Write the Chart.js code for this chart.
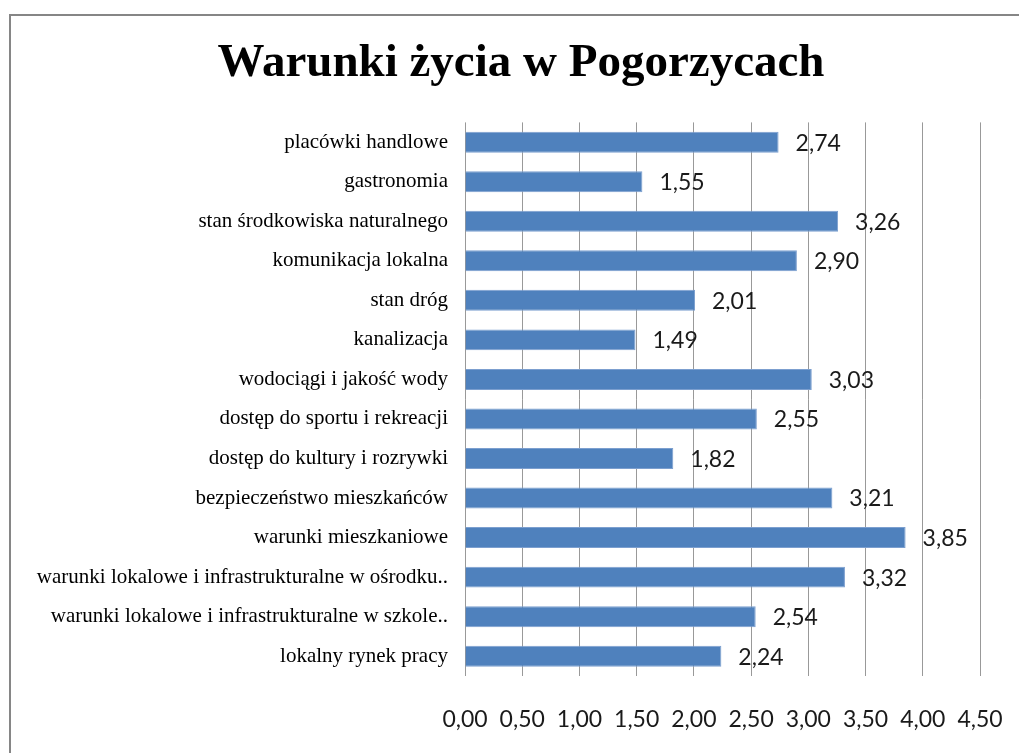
<!DOCTYPE html>
<html>
<head>
<meta charset="utf-8">
<script src="https://cdn.jsdelivr.net/npm/chart.js@4/dist/chart.umd.min.js"></script>
<style>
  html, body { margin: 0; padding: 0; background: #fff; overflow: hidden; }
  #wrap { position: absolute; left: 0; top: 0; width: 1042px; height: 753px; }
</style>
</head>
<body>
<div id="wrap"><canvas id="c"></canvas></div>
<script>
const chartTitle = 'Warunki życia w Pogorzycach';
const categories = [
  'placówki handlowe',
  'gastronomia',
  'stan środkowiska naturalnego',
  'komunikacja lokalna',
  'stan dróg',
  'kanalizacja',
  'wodociągi i jakość wody',
  'dostęp do sportu i rekreacji',
  'dostęp do kultury i rozrywki',
  'bezpieczeństwo mieszkańców',
  'warunki mieszkaniowe',
  'warunki lokalowe i infrastrukturalne w ośrodku..',
  'warunki lokalowe i infrastrukturalne w szkole..',
  'lokalny rynek pracy'
];
const values = [2.74, 1.55, 3.26, 2.90, 2.01, 1.49, 3.03, 2.55, 1.82, 3.21, 3.85, 3.32, 2.54, 2.24];
const xMin = 0, xMax = 4.5, xStep = 0.5;

const fmt = v => Number(v).toFixed(2).replace('.', ',');

const frame = {
  id: 'frame',
  beforeDraw(chart) {
    const ctx = chart.ctx;
    ctx.save();
    ctx.strokeStyle = '#868686';
    ctx.lineWidth = 2;
    ctx.beginPath();
    ctx.moveTo(10, 800);
    ctx.lineTo(10, 15);
    ctx.lineTo(1100, 15);
    ctx.stroke();
    ctx.restore();
  }
};

const valueLabels = {
  id: 'valueLabels',
  afterDatasetsDraw(chart) {
    const ctx = chart.ctx;
    const meta = chart.getDatasetMeta(0);
    ctx.save();
    ctx.font = '23px Lato';
    ctx.fillStyle = '#1a1a1a';
    ctx.textAlign = 'left';
    ctx.textBaseline = 'middle';
    meta.data.forEach((bar, i) => {
      ctx.fillText(fmt(chart.data.datasets[0].data[i]), bar.x + 17, bar.y + 1);
    });
    ctx.restore();
  }
};

new Chart(document.getElementById('c'), {
  type: 'bar',
  data: {
    labels: categories,
    datasets: [{
      data: values,
      backgroundColor: '#4f81bd',
      borderColor: '#7c9fcf',
      borderWidth: 1,
      barPercentage: 0.53,
      categoryPercentage: 1.0
    }]
  },
  options: {
    indexAxis: 'y',
    responsive: true,
    maintainAspectRatio: false,
    animation: false,
    layout: { padding: { left: 0, right: 0, top: 0, bottom: 0 } },
    plugins: {
      legend: { display: false },
      tooltip: { enabled: false },
      title: {
        display: true,
        text: chartTitle,
        color: '#000',
        font: { family: 'Liberation Serif', size: 47, weight: 'bold' },
        padding: { top: 36, bottom: 30 }
      }
    },
    scales: {
      x: {
        min: xMin, max: xMax,
        afterFit(scale) { scale.height = 77; },
        ticks: {
          stepSize: xStep,
          color: '#1a1a1a',
          font: { family: 'Lato', size: 23 },
          padding: 30,
          maxRotation: 0,
          callback: v => fmt(v)
        },
        grid: { color: '#999999', lineWidth: 1, drawTicks: false },
        border: { display: false }
      },
      y: {
        afterFit(scale) { scale.width = 465; },
        ticks: {
          color: '#000',
          font: { family: 'Liberation Serif', size: 21 },
          padding: 17,
          autoSkip: false
        },
        grid: { display: false, drawTicks: false },
        border: { display: false }
      },
      yRight: {
        type: 'category',
        position: 'right',
        afterFit(scale) { scale.width = 62; },
        ticks: { display: false },
        grid: { display: false, drawTicks: false },
        border: { display: false }
      }
    }
  },
  plugins: [frame, valueLabels]
});
</script>
</body>
</html>
